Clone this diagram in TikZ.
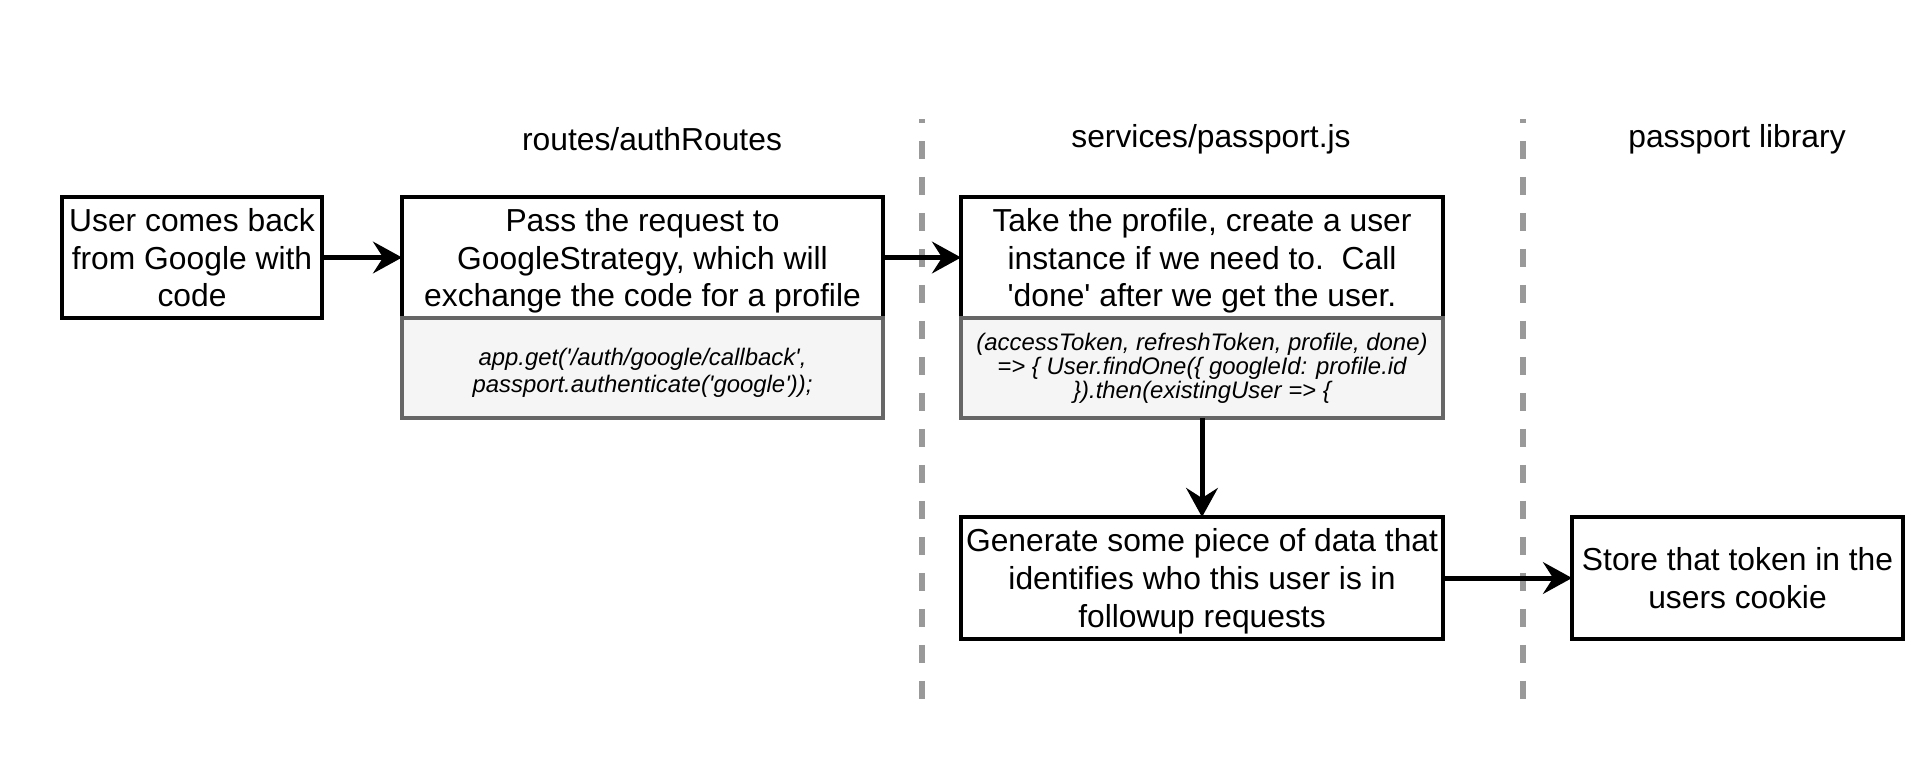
\documentclass[tikz,border=0pt]{standalone}
\usepackage{fontspec}
\setmainfont{Liberation Sans}
\usetikzlibrary{arrows.meta,positioning}
\definecolor{codefill}{HTML}{F5F5F5}
\definecolor{codeedge}{HTML}{666666}
\definecolor{lanegray}{HTML}{999999}
\newcommand{\sq}{\textquotesingle}

\begin{document}
\begin{tikzpicture}[x=0.02cm, y=-0.02cm,
    box/.style={draw, line width=2.27pt, align=center, inner sep=0pt, outer sep=0pt,
      text depth=0pt, font=\fontsize{18.1}{21.5}\selectfont},
    code/.style={draw=codeedge, fill=codefill, line width=2.27pt, align=center, inner sep=0pt,
      outer sep=0pt, minimum width=9.62cm, minimum height=2.0cm,
      font=\fontsize{13.6}{15.3}\selectfont\itshape},
    lane/.style={draw=lanegray, line width=3.2pt, dash pattern=on 0.36cm off 0.36cm, dash phase=0.28cm},
    flow/.style={line width=2.83pt, -{Stealth[length=16.5pt 0, width=18pt 0, inset=5.7pt 0]}},
    head/.style={font=\fontsize{18.1}{21.5}\selectfont}]
    \useasboundingbox (0,0) rectangle (1932,772);

    % --- swim lane separators and titles ---
    \coordinate (L1top) at (922,119);
    \coordinate (L1bot) at (922,699);
    \coordinate (L2top) at (1523,119);
    \coordinate (L2bot) at (1523,699);
    \draw[lane] (L1top) -- (L1bot);
    \draw[lane] (L2top) -- (L2bot);
    \node[head] (routes) at (652,139.5) {routes/authRoutes};
    \node[head] (services) at (1211,139.5) {services/passport.js};
    \node[head] (library) at (1737,139.5) {passport library};

    % --- routes ---
    \node[box, minimum width=5.2cm, minimum height=2.42cm] (user) at (192,257.5)
      {User comes back\\from Google with\\code};
    \node[box, minimum width=9.62cm, minimum height=2.42cm] (pass) at (642.5,257.5)
      {Pass the request to\\GoogleStrategy, which will\\exchange the code for a profile};
    \node[code, below=0pt of pass] (passcode)
      {\rule{0pt}{15pt}app.get(\sq/auth/google/callback\sq,\\passport.authenticate(\sq google\sq));};

    % --- services ---
    \node[box, minimum width=9.64cm, minimum height=2.42cm] (profile) at (1202,257.5)
      {Take the profile, create a user\\instance if we need to.\ \ Call\\\sq done\sq\ after we get the user.};
    \node[code, minimum width=9.64cm, below=0pt of profile,
      font=\fontsize{13.6}{12.6}\selectfont\itshape] (profilecode)
      {(accessToken, refreshToken, profile, done)\\=> \{ User.findOne(\{ googleId: profile.id\\\}).then(existingUser => \{};
    \node[box, minimum width=9.64cm, minimum height=2.44cm] (token) at (1202,578)
      {Generate some piece of data that\\identifies who this user is in\\followup requests};

    % --- library ---
    \node[box, minimum width=6.62cm, minimum height=2.44cm] (store) at (1737.5,578)
      {Store that token in the\\users cookie};

    % --- flow ---
    \draw[flow] (user) -- (pass);
    \draw[flow] (pass) -- (profile);
    \draw[flow] (profilecode) -- (token);
    \draw[flow] (token) -- (store);
\end{tikzpicture}
\end{document}
